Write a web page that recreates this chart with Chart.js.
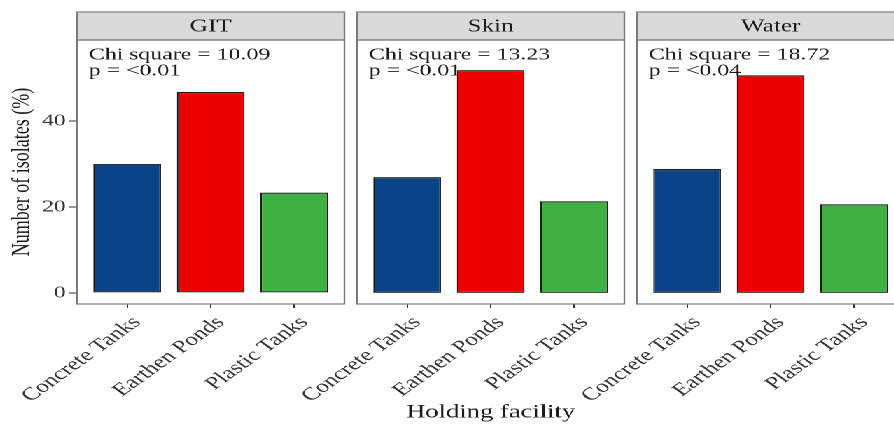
<!DOCTYPE html>
<html>
<head>
<meta charset="utf-8">
<script src="https://cdn.jsdelivr.net/npm/chart.js@4.4.1/dist/chart.umd.min.js"></script>
<style>
  html, body { margin: 0; padding: 0; background: #fff; overflow: hidden; width: 894px; height: 425px; }
  /* the figure is laid out narrow and widened horizontally as a whole */
  #stage { position: absolute; left: 0; top: 0; width: 640px; height: 425px; transform: scaleX(1.4); transform-origin: 0 0; }
  #stage canvas { position: absolute; top: 0; }
</style>
</head>
<body>
<div id="stage"></div>
<script>
// ---- data ----
const facets = ['GIT', 'Skin', 'Water'];
const categories = ['Concrete Tanks', 'Earthen Ponds', 'Plastic Tanks'];
const gitValues = [30.0, 46.7, 23.3];
const skinValues = [26.9, 51.8, 21.3];
const waterValues = [28.8, 50.6, 20.6];
const chiSquare = ['10.09', '13.23', '18.72'];
const pValues = ['<0.01', '<0.01', '<0.04'];
const yTicks = [0, 20, 40];

const facetValues = [gitValues, skinValues, waterValues];

// ---- styling ----
const barColors = ['#0a4387', '#ec0000', '#3fb142'];
const SERIF = "'Liberation Serif', 'Times New Roman', serif";
const frameColor = '#7a7a7a';
const stripFill = '#d9d9d9';
const axisInk = '#333333';
const textInk = '#1a1a1a';

Chart.defaults.font.family = SERIF;

// panel geometry (in the unstretched layout)
const PANEL_W = 191;
const PAD_RIGHT = 12;
const STRIP_TOP = 12;
const PLOT_TOP = 40;
const X_AXIS_H = 121;
const Y_AXIS_W = 55;
const FIRST_EXTRA = 20;   // spare room left of the y axis for the first rotated label
const LEFT_ROOM = 75;
const panelLefts = [55, 255, 455];

// strip, panel border and chi-square note for each facet
const facetFrame = {
  id: 'facetFrame',
  beforeDatasetsDraw(chart, args, opts) {
    const {ctx, chartArea: a} = chart;
    ctx.save();
    ctx.fillStyle = textInk;
    ctx.font = `17px ${SERIF}`;
    ctx.textAlign = 'left';
    ctx.textBaseline = 'middle';
    ctx.fillText(`Chi square = ${opts.chi}`, a.left + 8.5, a.top + 15);
    ctx.fillText(`p = ${opts.p}`, a.left + 8.5, a.top + 31);
    ctx.restore();
  },
  afterDatasetsDraw(chart, args, opts) {
    const {ctx, chartArea: a} = chart;
    ctx.save();
    ctx.lineWidth = 1.2;
    ctx.strokeStyle = frameColor;
    // strip
    ctx.fillStyle = stripFill;
    ctx.fillRect(a.left, STRIP_TOP, a.right - a.left, a.top - STRIP_TOP);
    ctx.strokeRect(a.left, STRIP_TOP, a.right - a.left, a.top - STRIP_TOP);
    ctx.fillStyle = textInk;
    ctx.font = `18px ${SERIF}`;
    ctx.textAlign = 'center';
    ctx.textBaseline = 'middle';
    ctx.fillText(opts.title, (a.left + a.right) / 2, (STRIP_TOP + a.top) / 2 + 1);
    // panel border
    ctx.strokeRect(a.left, a.top, a.right - a.left, a.bottom - a.top);
    ctx.restore();
  }
};

const stage = document.getElementById('stage');

facets.forEach((facet, k) => {
  const first = k === 0;
  const leftRoom = first ? FIRST_EXTRA + Y_AXIS_W : LEFT_ROOM;
  const canvas = document.createElement('canvas');
  canvas.width = leftRoom + PANEL_W + PAD_RIGHT;
  canvas.height = 425;
  canvas.style.left = (panelLefts[k] - leftRoom) + 'px';
  stage.appendChild(canvas);

  const values = facetValues[k];

  new Chart(canvas, {
    type: 'bar',
    data: {
      datasets: [{
        data: categories.map((c, i) => ({x: i, y: values[i]})),
        backgroundColor: barColors,
        borderColor: '#1a1a1a',
        borderWidth: 1.1,
        borderSkipped: false,
        categoryPercentage: 1,
        barPercentage: 0.81
      }]
    },
    options: {
      responsive: false,
      animation: false,
      devicePixelRatio: 2,
      layout: { padding: { left: first ? FIRST_EXTRA : LEFT_ROOM, right: PAD_RIGHT, top: PLOT_TOP, bottom: 0 } },
      plugins: {
        legend: { display: false },
        tooltip: { enabled: false },
        facetFrame: { title: facet, chi: chiSquare[k], p: pValues[k] }
      },
      scales: {
        x: {
          type: 'linear',
          min: -0.6,
          max: 2.6,
          offset: false,
          afterBuildTicks: s => { s.ticks = categories.map((c, i) => ({value: i})); },
          afterFit: s => { s.height = X_AXIS_H; },
          ticks: {
            autoSkip: false,
            maxRotation: 45,
            minRotation: 45,
            padding: 4,
            labelOffset: 7,
            color: axisInk,
            font: { size: 18, family: SERIF },
            callback: v => categories[v]
          },
          grid: { display: true, drawOnChartArea: false, drawTicks: true, tickLength: 4, color: axisInk, offset: false, tickWidth: 1 },
          border: { display: false },
          title: {
            display: k === 1,
            text: 'Holding facility',
            color: textInk,
            font: { size: 19, family: SERIF },
            padding: { top: 0, bottom: 1 }
          }
        },
        y: {
          display: first,
          min: -2.6,
          max: 58.8,
          afterBuildTicks: s => { s.ticks = yTicks.map(v => ({value: v})); },
          afterFit: s => { if (first) s.width = Y_AXIS_W; },
          ticks: {
            padding: 2,
            color: axisInk,
            font: { size: 17, family: SERIF }
          },
          grid: { drawOnChartArea: false, drawTicks: true, tickLength: 6, color: axisInk },
          border: { display: false },
          title: {
            display: true,
            text: 'Number of isolates (%)',
            color: textInk,
            font: { size: 18, family: SERIF },
            padding: { top: 5, bottom: 0 }
          }
        }
      }
    },
    plugins: [facetFrame]
  });
});
</script>
</body>
</html>
